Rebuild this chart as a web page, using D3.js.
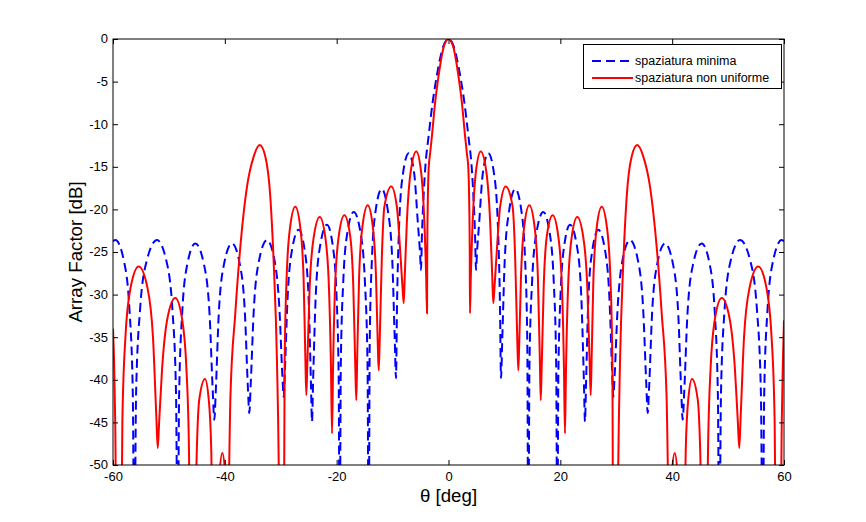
<!DOCTYPE html>
<html><head><meta charset="utf-8">
<script src="https://cdn.jsdelivr.net/npm/d3@7"></script>
<style>
body{margin:0;background:#fff}
text{font-family:"Liberation Sans",Arial,sans-serif}
</style>
</head><body><svg id="c" width="866" height="522"></svg>
<script>
const xTicks=[-60,-40,-20,0,20,40,60];
const yTicks=[0,-5,-10,-15,-20,-25,-30,-35,-40,-45,-50];
const seriesNames=["spaziatura minima","spaziatura non uniforme"];
const xLabel="\u03b8 [deg]";
const yLabel="Array Factor [dB]";

// blue dashed: spaziatura minima  [theta(deg), AF(dB)]
const blueRight=[[0,0],[0.9,-0.8],[2.06,-4.2],[2.85,-7.5],[3.54,-11.3],[4.15,-15.1],[4.5,-19],[4.75,-23],[4.92,-27.1],
[5.1,-25],[5.47,-21.7],[6.13,-15.8],[7.12,-13.4],[8.14,-15.8],[8.82,-21.7],[9.21,-31.4],[9.39,-39.8],
[9.6,-35.6],[10.06,-25.9],[10.88,-20],[11.95,-17.6],[13.0,-20],[13.7,-25.9],[14.09,-35.6],[14.27,-62],
[14.48,-38.3],[14.94,-28.6],[15.74,-22.7],[16.95,-20.3],[18.08,-22.7],[18.83,-28.6],[19.26,-38.3],[19.46,-62],
[19.64,-39.8],[20.03,-30.1],[20.71,-24.2],[21.73,-21.8],[22.94,-24.2],[23.74,-30.1],[24.2,-39.8],[24.41,-44.9],
[24.6,-40.4],[25.0,-30.7],[25.72,-24.8],[26.79,-22.4],[28.0,-24.8],[28.8,-30.7],[29.26,-39],[29.47,-42],
[29.71,-39.5],[30.22,-31.9],[31.11,-26],[32.46,-23.6],[33.88,-26],[34.83,-31.9],[35.37,-40.5],[35.62,-43.9],
[35.87,-41],[36.4,-32.3],[37.33,-26.4],[38.72,-24],[40.14,-26.4],[41.09,-32.3],[41.63,-41.5],[41.88,-44.7],
[42.15,-41.5],[42.73,-32.3],[43.75,-26.4],[45.28,-24],[46.7,-26.4],[47.64,-32.3],[48.18,-42],[48.43,-62],
[48.73,-41.6],[49.36,-31.9],[50.47,-26],[52.13,-23.6],[53.96,-26],[55.18,-31.9],[55.87,-41.6],[56.19,-62],
[56.46,-41.6],[57.04,-31.9],[58.06,-26],[59.58,-23.6],[60,-23.75]];
const blueLeft=[[-60,-23.75],[-59.58,-23.6],[-58.06,-26],[-57.04,-31.9],[-56.46,-41.6],[-56.19,-62],
[-55.87,-41.6],[-55.18,-31.9],[-53.96,-26],[-52.13,-23.6],[-50.47,-26],[-49.36,-31.9],[-48.73,-41.6],[-48.43,-62],
[-48.18,-42],[-47.64,-32.3],[-46.7,-26.4],[-45.28,-24],[-43.75,-26.4],[-42.73,-32.3],[-42.15,-41.5],[-41.88,-44.7],
[-41.63,-41.5],[-41.09,-32.3],[-40.14,-26.4],[-38.72,-24],[-37.33,-26.4],[-36.4,-32.3],[-35.87,-41],[-35.62,-43.9],
[-35.37,-40.5],[-34.83,-31.9],[-33.88,-26],[-32.46,-23.6],[-31.11,-26],[-30.22,-31.9],[-29.71,-39.5],[-29.47,-42],
[-29.26,-39],[-28.8,-30.7],[-28.0,-24.8],[-26.79,-22.4],[-25.72,-24.8],[-25.0,-30.7],[-24.6,-40.4],[-24.41,-44.9],
[-24.2,-39.8],[-23.74,-30.1],[-22.94,-24.2],[-21.73,-21.8],[-20.71,-24.2],[-20.03,-30.1],[-19.64,-39.8],[-19.46,-62],
[-19.26,-38.3],[-18.83,-28.6],[-18.08,-22.7],[-16.95,-20.3],[-15.74,-22.7],[-14.94,-28.6],[-14.48,-38.3],[-14.27,-62],
[-14.09,-35.6],[-13.7,-25.9],[-13.0,-20],[-11.95,-17.6],[-10.88,-20],[-10.06,-25.9],[-9.6,-35.6],[-9.39,-39.8],
[-9.21,-31.4],[-8.82,-21.7],[-8.14,-15.8],[-7.12,-13.4],[-6.13,-15.8],[-5.47,-21.7],[-5.1,-25],[-4.92,-27.1],
[-4.75,-23],[-4.5,-19],[-4.15,-15.1],[-3.54,-11.3],[-2.85,-7.5],[-2.06,-4.2],[-0.9,-0.8]];

// red solid: spaziatura non uniforme
const redRight=[[0,0],[0.8,-0.8],[1.75,-4.2],[2.4,-7.5],[2.95,-11.3],[3.3,-13.5],[3.54,-15.1],[3.7,-19],[3.8,-25],[3.84,-32.2],
[3.99,-28],[4.32,-21.5],[4.9,-15.6],[5.76,-13.2],[6.77,-15.6],[7.45,-21.5],[7.83,-28],[8.01,-31],
[8.19,-29.5],[8.57,-25.6],[9.23,-19.7],[10.23,-17.3],[11.47,-19.7],[11.92,-25.6],[12.3,-35.3],[12.48,-38.9],
[12.64,-36],[12.97,-27.8],[13.56,-21.9],[14.45,-19.5],[15.37,-21.9],[15.98,-27.8],[16.33,-37.5],[16.49,-42.4],
[16.66,-38.7],[17.03,-29],[17.59,-23.1],[18.63,-20.7],[19.62,-23.1],[20.28,-29],[20.65,-38.7],[20.83,-46.3],
[21.01,-38.9],[21.38,-29.2],[22.02,-23.3],[23.03,-20.9],[24.11,-23.3],[24.83,-29.2],[25.24,-38],[25.43,-41.8],
[25.59,-37.7],[25.92,-28],[26.51,-22.1],[27.4,-19.7],[28.33,-22.1],[28.95,-28],[29.3,-37.7],[29.47,-62],
[29.85,-55],[30.2,-62],
[30.36,-50],[30.67,-38],[31.26,-26.3],[31.87,-18.5],[32.76,-13.8],[33.76,-12.45],[34.84,-13.8],[36.03,-17.3],[37.23,-24.4],[38.13,-32.2],[39.0,-42],[39.6,-62],
[39.95,-51],[40.45,-48.6],[40.95,-51],[41.3,-62],[41.7,-56],[42.05,-62],
[42.17,-57.9],[42.43,-48.2],[42.88,-42.3],[43.55,-39.9],[44.57,-42.3],[45.01,-48.2],[45.34,-57.9],[45.5,-62],
[45.85,-55],[46.2,-62],
[46.41,-48.4],[46.87,-38.7],[47.66,-32.8],[48.86,-30.4],[50.27,-32.8],[51.22,-38.7],[51.75,-45],[52.0,-48],
[52.27,-44],[52.85,-35],[53.87,-29.1],[55.4,-26.7],[56.83,-29.1],[57.78,-35],[58.32,-44.7],[58.57,-62],
[59.0,-55],[59.35,-62],[59.6,-45],[59.8,-38],[60,-33]];
const redLeft=[[-60,-34],[-59.8,-38],[-59.6,-45],[-59.35,-62],[-59.0,-55],[-58.57,-62],
[-58.32,-44.7],[-57.78,-35],[-56.83,-29.1],[-55.4,-26.7],[-53.87,-29.1],[-52.85,-35],[-52.27,-44],[-52.0,-48],
[-51.75,-45],[-51.22,-38.7],[-50.27,-32.8],[-48.86,-30.4],[-47.66,-32.8],[-46.87,-38.7],[-46.41,-48.4],[-46.2,-62],
[-45.85,-55],[-45.5,-62],
[-45.34,-57.9],[-45.01,-48.2],[-44.57,-42.3],[-43.55,-39.9],[-42.88,-42.3],[-42.43,-48.2],[-42.17,-57.9],[-42.05,-62],
[-41.7,-56],[-41.3,-62],[-40.95,-51],[-40.45,-48.6],[-39.95,-51],[-39.6,-62],
[-39.0,-42],[-38.13,-32.2],[-37.23,-24.4],[-36.03,-17.3],[-34.84,-13.8],[-33.76,-12.45],[-32.76,-13.8],[-31.87,-18.5],[-31.26,-26.3],[-30.67,-38],[-30.36,-50],
[-30.2,-62],[-29.85,-55],
[-29.47,-62],[-29.3,-37.7],[-28.95,-28],[-28.33,-22.1],[-27.4,-19.7],[-26.51,-22.1],[-25.92,-28],[-25.59,-37.7],
[-25.43,-41.8],[-25.24,-38],[-24.83,-29.2],[-24.11,-23.3],[-23.03,-20.9],[-22.02,-23.3],[-21.38,-29.2],[-21.01,-38.9],
[-20.83,-46.3],[-20.65,-38.7],[-20.28,-29],[-19.62,-23.1],[-18.63,-20.7],[-17.59,-23.1],[-17.03,-29],[-16.66,-38.7],
[-16.49,-42.4],[-16.33,-37.5],[-15.98,-27.8],[-15.37,-21.9],[-14.45,-19.5],[-13.56,-21.9],[-12.97,-27.8],[-12.64,-36],
[-12.48,-38.9],[-12.3,-35.3],[-11.92,-25.6],[-11.47,-19.7],[-10.23,-17.3],[-9.23,-19.7],[-8.57,-25.6],[-8.19,-29.5],
[-8.01,-31],[-7.83,-28],[-7.45,-21.5],[-6.77,-15.6],[-5.76,-13.2],[-4.9,-15.6],[-4.32,-21.5],[-3.99,-28],
[-3.84,-32.2],[-3.8,-25],[-3.7,-19],[-3.54,-15.1],[-3.3,-13.5],[-2.95,-11.3],[-2.4,-7.5],[-1.75,-4.2],[-0.8,-0.8]];

const W=866,H=522,m={l:113,r:784,t:39,b:465};
const x=d3.scaleLinear().domain([-60,60]).range([m.l,m.r]);
const y=d3.scaleLinear().domain([-50,0]).range([m.b,m.t]);
const svg=d3.select("#c");
svg.append("rect").attr("width",W).attr("height",H).attr("fill","#fff");
svg.append("defs").append("clipPath").attr("id","clip").append("rect")
  .attr("x",m.l).attr("y",m.t).attr("width",m.r-m.l).attr("height",m.b-m.t);

const byX=(a,b)=>a[0]-b[0];
const blueData=blueLeft.concat(blueRight).sort(byX);
const redData=redLeft.concat(redRight).sort(byX);
const line=d3.line().x(d=>x(d[0])).y(d=>y(d[1])).curve(d3.curveMonotoneX);

const g=svg.append("g").attr("clip-path","url(#clip)");
g.append("path").datum(blueData).attr("d",line).attr("fill","none")
  .attr("stroke","#0000ff").attr("stroke-width",2).attr("stroke-dasharray","9,5");
g.append("path").datum(redData).attr("d",line).attr("fill","none")
  .attr("stroke","#ff0000").attr("stroke-width",2);

// axes (box with inward ticks)
const fs=13;
const fmt=d=>String(d);
const ax=svg.append("g").attr("transform",`translate(0,${m.b})`)
  .call(d3.axisBottom(x).tickValues(xTicks).tickSizeInner(-5).tickSizeOuter(0).tickPadding(7).tickFormat(fmt));
const axT=svg.append("g").attr("transform",`translate(0,${m.t})`)
  .call(d3.axisTop(x).tickValues(xTicks).tickSizeInner(-5).tickSizeOuter(0).tickFormat(""));
const ay=svg.append("g").attr("transform",`translate(${m.l},0)`)
  .call(d3.axisLeft(y).tickValues(yTicks).tickSizeInner(-5).tickSizeOuter(0).tickPadding(5).tickFormat(fmt));
const ayR=svg.append("g").attr("transform",`translate(${m.r},0)`)
  .call(d3.axisRight(y).tickValues(yTicks).tickSizeInner(-5).tickSizeOuter(0).tickFormat(""));
[ax,axT,ay,ayR].forEach(a=>{
  a.selectAll("path").remove();
  a.selectAll("line").attr("stroke","#000");
  a.selectAll("text").attr("font-size",fs).attr("fill","#000").style("font-family","'Liberation Sans',Arial,sans-serif");
});
ay.selectAll("text").attr("dy","0.3em");
svg.append("rect").attr("x",m.l).attr("y",m.t).attr("width",m.r-m.l).attr("height",m.b-m.t)
  .attr("fill","none").attr("stroke","#000").attr("stroke-width",1);

svg.append("text").attr("x",(m.l+m.r)/2).attr("y",502).attr("text-anchor","middle")
  .attr("font-size",18.7).text(xLabel);
svg.append("text").attr("transform",`translate(82,${(m.t+m.b)/2}) rotate(-90)`).attr("text-anchor","middle")
  .attr("font-size",18.7).text(yLabel);

// legend
const lg=svg.append("g");
lg.append("rect").attr("x",583.5).attr("y",44.5).attr("width",198).attr("height",44)
  .attr("fill","#fff").attr("stroke","#000").attr("stroke-width",1);
const rows=[{name:seriesNames[0],color:"#0000ff",dash:"9,5",yy:61},{name:seriesNames[1],color:"#ff0000",dash:null,yy:78}];
rows.forEach(r=>{
  lg.append("line").attr("x1",592).attr("x2",633).attr("y1",r.yy).attr("y2",r.yy)
    .attr("stroke",r.color).attr("stroke-width",2).attr("stroke-dasharray",r.dash);
  lg.append("text").attr("x",635).attr("y",r.yy).attr("dy","0.35em").attr("font-size",12.5).text(r.name);
});
</script>
</body></html>
